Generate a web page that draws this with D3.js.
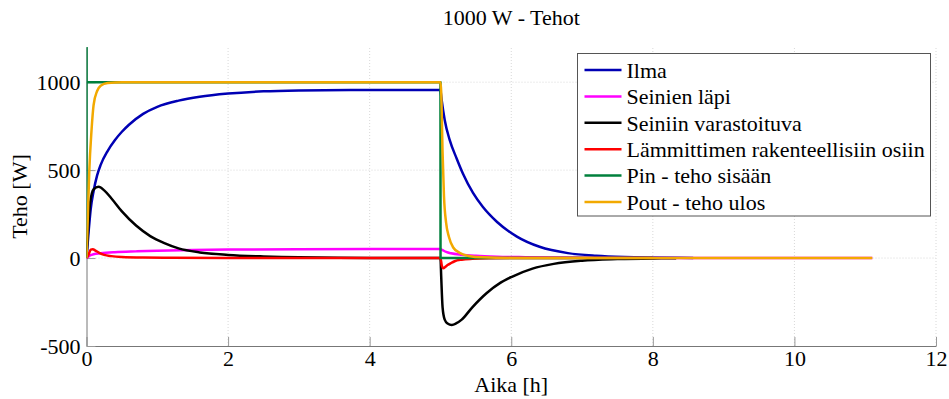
<!DOCTYPE html>
<html>
<head>
<meta charset="utf-8">
<script src="https://cdn.jsdelivr.net/npm/d3@7"></script>
<style>
  body { margin: 0; background: #fff; }
  svg text { font-family: "Liberation Serif", "Times New Roman", "DejaVu Serif", serif; }
</style>
</head>
<body>
<div id="chart"></div>
<script>
// values (time in hours, power in W)
var ilmaT  = [0, 0.03, 0.06, 0.1, 0.15, 0.2, 0.3, 0.4, 0.5, 0.6, 0.8, 1, 1.3, 1.6, 2, 2.5, 3, 4, 5,
              5.005, 5.02, 5.06, 5.13, 5.23, 5.32, 5.46, 5.6, 5.8, 6.08, 6.4, 6.8, 7.2, 7.6, 8, 8.57];
var ilmaV  = [0, 150, 280, 380, 470, 530, 610, 670, 718, 758, 820, 860, 895, 917, 935, 948, 953, 956, 956,
              940, 890, 785, 672, 565, 478, 370, 290, 205, 122, 64, 28, 13, 6, 3, 1];

var lapiT  = [0, 0.05, 0.1, 0.2, 0.4, 0.7, 1, 1.5, 2, 3, 4, 5,
              5.03, 5.08, 5.15, 5.3, 5.5, 5.8, 6.2, 7, 8, 11.1];
var lapiV  = [0, 15, 22, 27, 33, 38, 42, 46, 48, 50, 51, 51,
              45, 35, 27, 19, 13, 8, 5, 2, 1, 0];

var varastoT = [0, 0.05, 0.1, 0.17, 0.25, 0.35, 0.5, 0.7, 0.9, 1.1, 1.3, 1.6, 2, 2.5, 3, 4, 5,
                5.01, 5.03, 5.06, 5.1, 5.16, 5.22, 5.3, 5.45, 5.65, 5.85, 6, 6.3, 6.6, 7, 7.5, 8, 8.33];
var varastoV = [0, 310, 390, 405, 385, 340, 265, 185, 125, 85, 55, 32, 18, 9, 4, 1, 0,
                -100, -280, -350, -372, -380, -372, -350, -280, -200, -140, -108, -60, -33, -15, -6, -2, -1];

var lammT  = [0, 0.03, 0.06, 0.09, 0.12, 0.18, 0.25, 0.35, 0.5, 0.8, 1.2, 2, 3, 5,
              5.02, 5.04, 5.07, 5.1, 5.15, 5.2, 5.3, 5.45, 5.7, 6, 8];
var lammV  = [0, 20, 48, 50, 44, 30, 18, 11, 6, 3, 2, 1, 0, 0,
              -45, -58, -50, -40, -28, -18, -9, -4, -1, 0, 0];

var pinT   = [0, 0, 0.001, 5, 5.001, 8];
var pinV   = [0, 1500, 1000, 1000, 0, 0];

var poutT  = [0, 0.02, 0.04, 0.07, 0.1, 0.15, 0.2, 0.3, 0.5, 5,
              5.01, 5.03, 5.05, 5.08, 5.12, 5.18, 5.27, 5.4, 5.6, 6, 11.1];
var poutV  = [0, 250, 500, 720, 870, 950, 980, 995, 1000, 1000,
              950, 600, 350, 200, 120, 60, 30, 12, 4, 1, 0];

var seriesNames = ["Ilma", "Seinien läpi", "Seiniin varastoituva",
                   "Lämmittimen rakenteellisiin osiin", "Pin - teho sisään", "Pout - teho ulos"];
var seriesColors = ["#0000b4", "#ff00ff", "#000000", "#ff0000", "#00803c", "#f2a900"];

var xTicks = [0, 2, 4, 6, 8, 10, 12];
var yTicks = [-500, 0, 500, 1000];

var width = 949, height = 399;
var margin = { left: 86.5, right: 13, top: 47, bottom: 53 };
var fontSize = '22px';

var svg = d3.select('#chart').append('svg')
    .attr('width', width)
    .attr('height', height);

var x = d3.scaleLinear().domain([0, 12]).range([margin.left, width - margin.right]);
var y = d3.scaleLinear().domain([-500, 1200]).range([height - margin.bottom, margin.top]);

svg.append('defs').append('clipPath').attr('id', 'plot')
  .append('rect')
    .attr('x', x(0)).attr('y', y(1200))
    .attr('width', x(12) - x(0)).attr('height', y(-500) - y(1200));

// grid
var grid = svg.append('g').attr('class', 'grid');
grid.selectAll('line.gx').data(xTicks.slice(1)).enter().append('line')
    .attr('x1', function (d) { return x(d); }).attr('x2', function (d) { return x(d); })
    .attr('y1', y(-500)).attr('y2', y(1200))
    .attr('stroke', '#d8d8d8').attr('stroke-dasharray', '1,2');
grid.selectAll('line.gy').data(yTicks.slice(1)).enter().append('line')
    .attr('y1', function (d) { return y(d); }).attr('y2', function (d) { return y(d); })
    .attr('x1', x(0)).attr('x2', x(12))
    .attr('stroke', '#d8d8d8').attr('stroke-dasharray', '1,2');

// axes (plain hyphen minus and no thousands separator, like the original)
var fmt = function (d) { return String(d); };
var xAxis = d3.axisBottom(x).tickValues(xTicks).tickFormat(fmt).tickSizeInner(-9).tickSizeOuter(0).tickPadding(4);
var yAxis = d3.axisLeft(y).tickValues(yTicks).tickFormat(fmt).tickSizeInner(-9).tickSizeOuter(0).tickPadding(6);

var gx = svg.append('g').attr('transform', 'translate(0,' + y(-500) + ')').call(xAxis);
var gy = svg.append('g').attr('transform', 'translate(' + x(0) + ',0)').call(yAxis);
[gx, gy].forEach(function (g) {
    g.attr('font-family', null).attr('font-size', null);
    g.select('.domain').attr('stroke', '#777');
    g.selectAll('.tick line').attr('stroke', '#999');
    g.selectAll('.tick text')
      .attr('fill', '#000')
      .style('font-size', fontSize);
});
gy.selectAll('.tick text').attr('dy', '0.34em');

// lines
var series = [
    { t: ilmaT, v: ilmaV },
    { t: lapiT, v: lapiV },
    { t: varastoT, v: varastoV },
    { t: lammT, v: lammV },
    { t: pinT, v: pinV },
    { t: poutT, v: poutV }
];

var plot = svg.append('g').attr('clip-path', 'url(#plot)');
series.forEach(function (s, i) {
    var pts = s.t.map(function (t, j) { return [t, s.v[j]]; });
    var line = d3.line()
        .x(function (d) { return x(d[0]); })
        .y(function (d) { return y(d[1]); })
        .curve(i === 4 ? d3.curveLinear : d3.curveMonotoneX);
    plot.append('path')
        .datum(pts)
        .attr('fill', 'none')
        .attr('stroke', seriesColors[i])
        .attr('stroke-width', 2.5)
        .attr('stroke-linejoin', 'round')
        .attr('d', line);
});

// title and labels
svg.append('text')
    .attr('x', (x(0) + x(12)) / 2).attr('y', 25)
    .attr('text-anchor', 'middle')
    .style('font-size', fontSize)
    .text('1000 W - Tehot');

svg.append('text')
    .attr('x', (x(0) + x(12)) / 2).attr('y', 392)
    .attr('text-anchor', 'middle')
    .style('font-size', fontSize)
    .text('Aika [h]');

svg.append('text')
    .attr('transform', 'translate(27,' + ((y(-500) + y(1200)) / 2) + ') rotate(-90)')
    .attr('text-anchor', 'middle')
    .style('font-size', fontSize)
    .text('Teho [W]');

// legend
var legend = svg.append('g').attr('transform', 'translate(577.5,53.5)');
legend.append('rect')
    .attr('width', 353).attr('height', 162.5)
    .attr('fill', '#fff').attr('stroke', '#555').attr('stroke-width', 1);
var items = legend.selectAll('g.item').data(seriesNames).enter().append('g')
    .attr('transform', function (d, i) { return 'translate(0,' + (16.5 + i * 26.4) + ')'; });
items.append('line')
    .attr('x1', 7).attr('x2', 44)
    .attr('stroke', function (d, i) { return seriesColors[i]; })
    .attr('stroke-width', 2.5);
items.append('text')
    .attr('x', 49).attr('dy', '0.35em')
    .style('font-size', fontSize)
    .text(function (d) { return d; });
</script>
</body>
</html>
